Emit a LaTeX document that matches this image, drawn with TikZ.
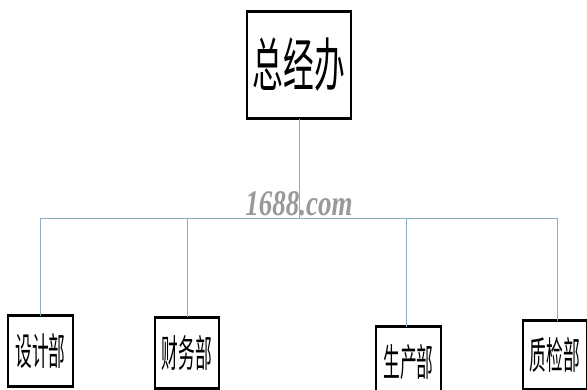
\documentclass[tikz,border=0pt]{standalone}
\usepackage{fontspec}
\usepackage{graphicx}
\newfontfamily\cjk{Noto Sans CJK SC}
\newfontfamily\wmfont{Liberation Serif}
\definecolor{linec}{RGB}{140,172,192}
\tikzset{
  orgbox/.style={draw=black, line width=1.2pt, fill=white, inner sep=0pt},
  conn/.style={draw=linec, line width=0.9pt},
}
\newcommand{\bigcjk}[1]{\scalebox{0.53}[1]{\fontsize{58}{60}\cjk #1}}
\newcommand{\smallcjk}[1]{\scalebox{0.44}[1]{\fontsize{38}{40}\cjk #1}}
\begin{document}
\begin{tikzpicture}[x=1pt,y=-1pt]
\useasboundingbox (0,0) rectangle (587,390);
\fill[white] (0,0) rectangle (587,390);
% boxes
\node[orgbox, minimum width=104pt, minimum height=106pt] (top) at (299,65) {\bigcjk{总经办}};
\node[orgbox, minimum width=65pt, minimum height=69pt] (sj) at (40.5,351) {\smallcjk{设计部}};
\node[orgbox, minimum width=64pt, minimum height=70pt] (cw) at (187,353) {\smallcjk{财务部}};
\node[orgbox, minimum width=65pt, minimum height=70pt] (sc) at (408.5,362) {\smallcjk{生产部}};
\node[orgbox, minimum width=64pt, minimum height=68pt] (zj) at (555,355) {\smallcjk{质检部}};
% thick top/bottom edges
\foreach \n in {top,sj,cw,sc,zj}{
  \draw[line width=3pt] (\n.north west) -- (\n.north east);
  \draw[line width=3pt] (\n.south west) -- (\n.south east);
}
% connectors
\coordinate (hub) at (299,218);
\coordinate (hl) at (40,218);
\coordinate (hr) at (557,218);
\draw[conn] (top.south) -- (hub);
\draw[conn] (hl) -- (hr);
\draw[conn] (hl) -- (sj.north -| hl);
\draw[conn] (cw.north |- hub) -- (cw.north);
\draw[conn] (406,218) -- (406,327);
\draw[conn] (hr) -- (557,321);
% watermark
\node[text=gray!80, inner sep=0pt] (wm) at (299,204) {\scalebox{0.9}[1.2]{\wmfont\bfseries\itshape\fontsize{30}{32}\selectfont 1688.com}};
\end{tikzpicture}
\end{document}
